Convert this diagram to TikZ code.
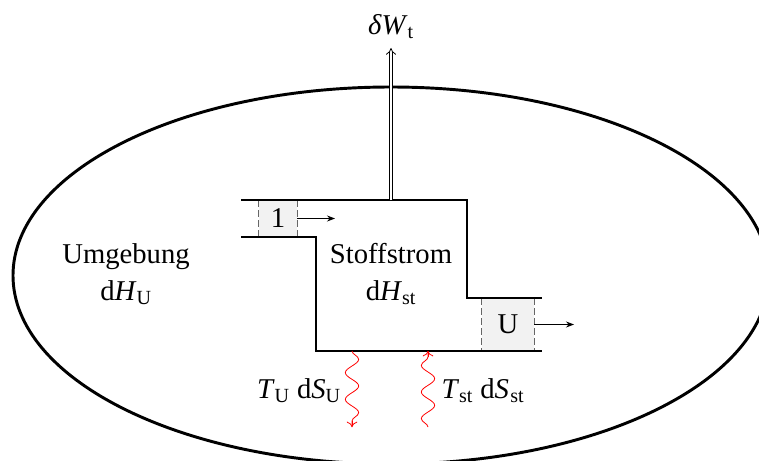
\documentclass[tikz,border=0pt]{standalone}
\usepackage{fontspec}
\setmainfont{Liberation Serif}
\definecolor{CellGray}{HTML}{F2F2F2}
\definecolor{DashGray}{HTML}{666666}
\usetikzlibrary{arrows.meta,decorations.pathmorphing,shapes.geometric}
\newcommand{\symsub}[2]{\textit{#1}\textsubscript{#2}}
\tikzset{
  labelNode/.style={align=center, inner sep=0pt, font=\fontsize{21.5}{27.5}\selectfont},
  cellNode/.style={fill=CellGray, inner sep=0pt, font=\fontsize{21.5}{24}\selectfont},
  wall/.style={draw=black, line width=1.6pt},
  cellEdge/.style={draw=DashGray, dashed, line width=0.9pt, dash pattern=on 5pt off 2.5pt},
  flowArrow/.style={-{Stealth[length=6pt]}, draw=black, line width=0.7pt},
  workArrow/.style={-{Implies}, double, double distance=2pt, line width=0.6pt},
  heatArrow/.style={draw=red, line width=0.6pt, decorate, decoration={snake, amplitude=5pt, segment length=20pt, post length=1pt}},
  heatTip/.style={-{To[length=4pt,width=8pt]}, draw=red, line width=0.6pt}
}
\begin{document}
\begin{tikzpicture}[x=0.75pt, y=-0.75pt]
\useasboundingbox (0,0) rectangle (759,460);
% surroundings
\node[draw=black, line width=2.2pt, shape=ellipse, minimum width=567pt, minimum height=282.75pt, inner sep=0pt] (surround) at (391,275.5) {};
% cells
\node[cellNode, minimum width=28.5pt, minimum height=27.5pt] (inletCell) at (278,218.5) {1};
\node[cellNode, minimum width=39pt, minimum height=39.5pt] (outletCell) at (508,324.5) {U};
\draw[cellEdge] (inletCell.north west) -- (inletCell.south west);
\draw[cellEdge] (inletCell.north east) -- (inletCell.south east);
\draw[cellEdge] (outletCell.north west) -- (outletCell.south west);
\draw[cellEdge] (outletCell.north east) -- (outletCell.south east);
% walls
\draw[wall] (241,200) -- (467,200) -- (467,298) -- (542,298);
\draw[wall] (241,237) -- (316,237) -- (316,351) -- (542,351);
% labels
\node[labelNode] (umgebung) at (126,274) {Umgebung\\d\symsub{H}{U}};
\node[labelNode] (stoffstrom) at (391,274) {Stoffstrom\\d\symsub{H}{st}};
\node[labelNode] (work) at (391,27) {\textit{δW}\textsubscript{t}};
\node[labelNode] (heatU) at (299,391) {\symsub{T}{U} d\symsub{S}{U}};
\node[labelNode] (heatSt) at (483,391) {\symsub{T}{st} d\textit{S}\kern1pt\textsubscript{st}};
% arrows
\coordinate (shaftFoot) at (391,200);
\coordinate (inletEnd) at (335,218.5);
\coordinate (outletEnd) at (574,324.5);
\draw[workArrow] (shaftFoot) -- (391,48);
\draw[flowArrow] (inletCell.east) -- (inletEnd);
\draw[flowArrow] (outletCell.east) -- (outletEnd);
\coordinate (heatOutA) at (352,351);
\coordinate (heatOutB) at (352,427);
\coordinate (heatInA) at (428,427);
\coordinate (heatInB) at (428,351);
\draw[heatArrow] (heatOutA) -- (heatOutB);
\draw[heatArrow] (heatInA) -- (heatInB);
\draw[heatTip] (352,421) -- (heatOutB);
\draw[heatTip] (428,357) -- (heatInB);
\end{tikzpicture}
\end{document}
